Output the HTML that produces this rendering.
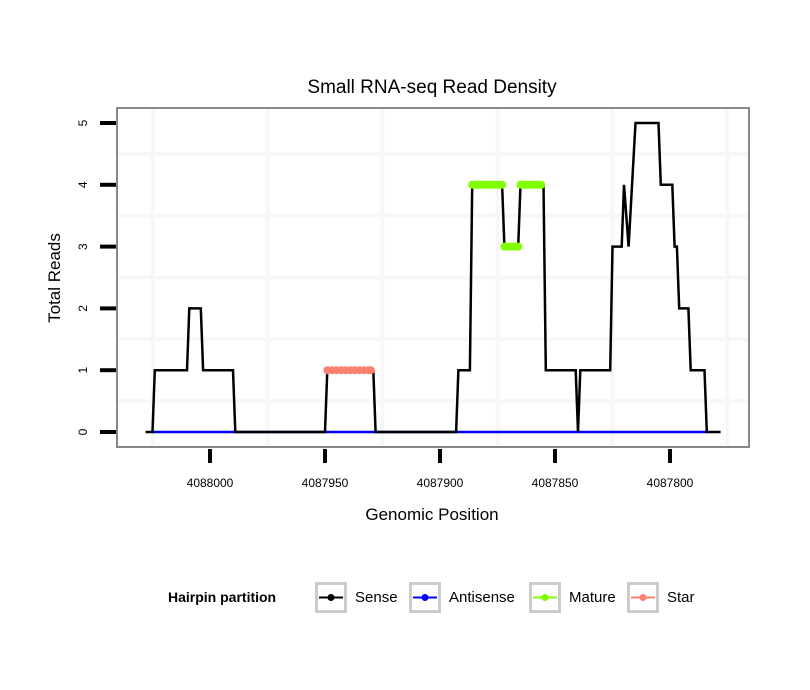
<!DOCTYPE html>
<html><head><meta charset="utf-8"><style>
body{margin:0;background:#fff;}
svg{display:block;font-family:"Liberation Sans",sans-serif;}
</style></head><body>
<svg id="chart" width="810" height="690" viewBox="0 0 810 690">
<rect x="0" y="0" width="810" height="690" fill="#fff"/>
<text x="432" y="93" font-size="19" text-anchor="middle">Small RNA-seq Read Density</text>
<g id="grid"></g>
<g id="series"></g>
<rect x="117" y="108" width="632" height="339" fill="none" stroke="#888" stroke-width="2"/>
<g id="axes"></g>
<text x="432" y="520" font-size="17" text-anchor="middle">Genomic Position</text>
<text transform="translate(60,278) rotate(-90)" font-size="17" text-anchor="middle">Total Reads</text>
<g>
<text x="168" y="602" font-size="14" font-weight="bold">Hairpin partition</text>
<g id="legend-items"></g>
</g>
</svg>
<script>
const xTicks=[4088000,4087950,4087900,4087850,4087800];
const yTicks=[0,1,2,3,4,5];
const senseX=[4088028,4088025,4088024,4088010,4088009,4088004,4088003,4087990,4087989,4087950,4087949,4087929,4087928,4087893,4087892,4087887,4087886,4087873,4087872,4087866,4087865,4087855,4087854,4087841,4087840,4087839,4087826,4087825,4087821,4087820,4087818,4087815,4087805,4087804,4087799,4087798,4087797,4087796,4087792,4087791,4087785,4087784,4087778];
const senseY=[0,0,1,1,2,2,1,1,0,0,1,1,0,0,1,1,4,4,3,3,4,4,1,1,0,1,1,3,3,4,3,5,5,4,4,3,3,2,2,1,1,0,0];
const antiX=[4088025,4087784];
const antiY=[0,0];
const matureX=[4087886,4087885,4087884,4087883,4087882,4087881,4087880,4087879,4087878,4087877,4087876,4087875,4087874,4087873,4087872,4087871,4087870,4087869,4087868,4087867,4087866,4087865,4087864,4087863,4087862,4087861,4087860,4087859,4087858,4087857,4087856];
const matureY=[4,4,4,4,4,4,4,4,4,4,4,4,4,4,3,3,3,3,3,3,3,4,4,4,4,4,4,4,4,4,4];
const starX=[4087949,4087947,4087945,4087943,4087941,4087939,4087937,4087935,4087933,4087931,4087930];
const starY=[1,1,1,1,1,1,1,1,1,1,1];
const legendLabels=["Sense","Antisense","Mature","Star"];
const legendColors=["#000","#0000ff","#7fff00","#fa8072"];
const legendPos=[315,409,529,627];

const NS="http://www.w3.org/2000/svg";
const sx=p=>210+(4088000-p)*2.3;
const sy=v=>432-v*61.8;
function mk(tag,attrs,parent){const e=document.createElementNS(NS,tag);for(const k in attrs)e.setAttribute(k,attrs[k]);parent.appendChild(e);return e;}
const grid=document.getElementById('grid'),series=document.getElementById('series'),axes=document.getElementById('axes'),leg=document.getElementById('legend-items');
mk('rect',{x:117,y:108,width:632,height:339,fill:'#fff'},grid);
for(let i=0;i<xTicks.length;i++){
  const x=sx(xTicks[i]);
  const xm=sx(xTicks[i]-25);
  const g2=mk('line',{x1:xm,x2:xm,y1:109,y2:446,stroke:'#f7f7f7','stroke-width':4},grid);
  
  
  const t=mk('line',{x1:x,x2:x,y1:449,y2:463,stroke:'#000','stroke-width':4},axes);
  
  
  const l=mk('text',{x:x,y:487,'font-size':12,'text-anchor':'middle'},axes);
  l.textContent=xTicks[i];
  
  
}
{const xm=sx(xTicks[0]+25);const g=mk('line',{x1:xm,x2:xm,y1:109,y2:446,stroke:'#f7f7f7','stroke-width':4},grid);

}
for(let i=0;i<yTicks.length;i++){
  const y=sy(yTicks[i]);
  if(i>0){const ym=sy(yTicks[i]-0.5);const g2=mk('line',{x1:118,x2:748,y1:ym,y2:ym,stroke:'#f7f7f7','stroke-width':4},grid);
  
  }
  const t=mk('line',{x1:100,x2:116,y1:y,y2:y,stroke:'#000','stroke-width':4},axes);
  
  
  const l=mk('text',{transform:`translate(87,${y}) rotate(-90)`,'font-size':12,'text-anchor':'middle'},axes);
  l.textContent=yTicks[i];
  
  
}
function pts(X,Y){return X.map((p,i)=>sx(p)+','+sy(Y[i])).join(' ');}
const a=mk('polyline',{points:pts(antiX,antiY),fill:'none',stroke:'#0000ff','stroke-width':2.5},series);


const s=mk('polyline',{points:pts(senseX,senseY),fill:'none',stroke:'#000','stroke-width':2.5,'stroke-linejoin':'miter'},series);


for(let i=0;i<matureX.length;i++){
  const c=mk('circle',{cx:sx(matureX[i]),cy:sy(matureY[i]),r:4,fill:'#7fff00'},series);
  
  
}
for(let i=0;i<starX.length;i++){
  const c=mk('circle',{cx:sx(starX[i]),cy:sy(starY[i]),r:4,fill:'#fa8072'},series);
  
  
}
for(let i=0;i<legendLabels.length;i++){
  const x=legendPos[i];
  const g=mk('g',{},leg);
  
  
  mk('rect',{x:x+1.5,y:583.5,width:29,height:28,fill:'#fff',stroke:'#ccc','stroke-width':3},g);
  mk('line',{x1:x+4,x2:x+28,y1:597.5,y2:597.5,stroke:legendColors[i],'stroke-width':2},g);
  mk('circle',{cx:x+16,cy:597.5,r:3.5,fill:legendColors[i]},g);
  const t=mk('text',{x:x+40,y:602,'font-size':15},g);
  t.textContent=legendLabels[i];
}
</script>
</body></html>
